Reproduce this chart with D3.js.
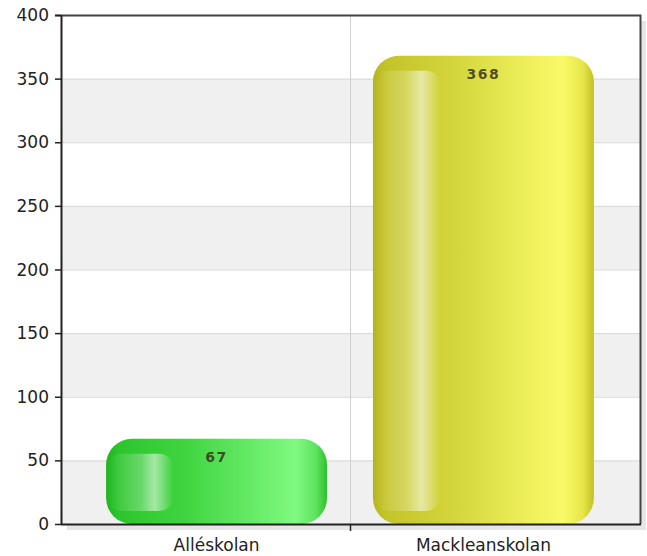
<!DOCTYPE html>
<html><head><meta charset="utf-8">
<script src="https://cdn.jsdelivr.net/npm/d3@7"></script>
<style>body{margin:0;background:#fff}svg{display:block}</style>
</head><body><svg id="c" width="647" height="556"></svg>
<script>
const categories = ["Alléskolan", "Mackleanskolan"];
const values = [67, 368];
const yTicks = [0, 50, 100, 150, 200, 250, 300, 350, 400];

const svg = d3.select("#c");
const L = 61, R = 640, T = 15, B = 524;
const y = d3.scaleLinear().domain([0, 400]).range([B, T]);
const x = d3.scaleBand().domain(categories).range([L, R - 1]).paddingInner(0.172).paddingOuter(0.169);

const defs = svg.append("defs");
function grad(id, stops) {
  const g = defs.append("linearGradient").attr("id", id).attr("x1", 0).attr("x2", 1).attr("y1", 0).attr("y2", 0);
  stops.forEach(s => g.append("stop").attr("offset", s[0]).attr("stop-color", s[1]).attr("stop-opacity", s[2] == null ? 1 : s[2]));
}
grad("g0", [[0, "#1fb51f"], [0.06, "#2dc52d"], [0.35, "#3fd43f"], [0.6, "#5fe65f"], [0.86, "#80f980"], [0.95, "#5ee35e"], [1, "#2ec02e"]]);
grad("g1", [[0, "#b4b41c"], [0.06, "#c4c42a"], [0.35, "#d2d43a"], [0.6, "#e6e852"], [0.86, "#fafa68"], [0.95, "#e6e64a"], [1, "#c2c228"]]);
grad("hl", [[0, "#ffffff", 0.0], [0.5, "#ffffff", 0.25], [0.72, "#ffffff", 0.55], [0.85, "#ffffff", 0.3], [1, "#ffffff", 0.0]]);
const fills = ["url(#g0)", "url(#g1)"];
const FONT = "DejaVu Sans, Verdana, sans-serif";

// shadow
svg.append("rect").attr("x", L + 6).attr("y", T + 6).attr("width", R - L).attr("height", B - T).attr("fill", "#e6e6e6");
svg.append("rect").attr("x", L).attr("y", T).attr("width", R - L).attr("height", B - T).attr("fill", "#fff");

// bands
const bandData = yTicks.slice(0, -1).filter((d, i) => i % 2 === 0);
svg.selectAll("rect.band").data(bandData).enter().append("rect")
  .attr("x", L).attr("width", R - L)
  .attr("y", d => y(d + 50)).attr("height", d => y(d) - y(d + 50))
  .attr("fill", "#f0f0f0");

// grid lines
svg.selectAll("line.grid").data(yTicks.slice(1, -1)).enter().append("line")
  .attr("x1", L).attr("x2", R).attr("y1", d => y(d) + 0.5).attr("y2", d => y(d) + 0.5)
  .attr("stroke", "#d8d8d8");
const midX = Math.round((x(categories[0]) + x.bandwidth() + x(categories[1])) / 2) + 0.5;
svg.append("line").attr("x1", midX).attr("x2", midX).attr("y1", T).attr("y2", B).attr("stroke", "#d0d0d0");

// bars
const r = 26;
categories.forEach((c, i) => {
  const x0 = x(c), w = x.bandwidth(), y0 = y(values[i]), h = B - y0;
  svg.append("rect").attr("x", x0).attr("y", y0).attr("width", w).attr("height", h)
    .attr("rx", r).attr("ry", r).attr("fill", fills[i]);
  // glass panel
  svg.append("rect").attr("x", x0 + 1).attr("y", y0 + 15).attr("width", w * 0.3).attr("height", Math.max(0, h - 28))
    .attr("rx", 14).attr("fill", "url(#hl)");
  svg.append("text").attr("x", x0 + w / 2).attr("y", y0 + 23)
    .attr("text-anchor", "middle").attr("font-family", FONT).attr("font-weight", "bold")
    .attr("font-size", 14).attr("letter-spacing", 1.5).attr("fill", "#33331a").attr("fill-opacity", 0.85).text(values[i]);
});

// frame
svg.append("path").attr("d", `M${L - 6},${T + 0.5}H${R + 0.5}V${B}`).attr("fill", "none").attr("stroke", "#444").attr("stroke-width", 2);
svg.append("line").attr("x1", L + 0.5).attr("x2", L + 0.5).attr("y1", T).attr("y2", B + 1).attr("stroke", "#222").attr("stroke-width", 2);
svg.append("line").attr("x1", L).attr("x2", R + 1).attr("y1", B + 0.5).attr("y2", B + 0.5).attr("stroke", "#222").attr("stroke-width", 2);

// y ticks
const yAxis = svg.append("g");
yTicks.forEach(t => {
  yAxis.append("line").attr("x1", L - 6).attr("x2", L).attr("y1", y(t) + 0.5).attr("y2", y(t) + 0.5).attr("stroke", "#222").attr("stroke-width", 1.5);
  yAxis.append("text").attr("x", L - 12).attr("y", y(t) + 6).attr("text-anchor", "end")
    .attr("font-family", FONT).attr("font-size", 17).attr("fill", "#222").text(t);
});
// x tick and labels
svg.append("line").attr("x1", midX).attr("x2", midX).attr("y1", B).attr("y2", B + 7).attr("stroke", "#222").attr("stroke-width", 1.5);
categories.forEach(c => {
  svg.append("text").attr("x", x(c) + x.bandwidth() / 2).attr("y", B + 27).attr("text-anchor", "middle")
    .attr("font-family", FONT).attr("font-size", 17).attr("fill", "#222").text(c);
});
</script></body></html>
